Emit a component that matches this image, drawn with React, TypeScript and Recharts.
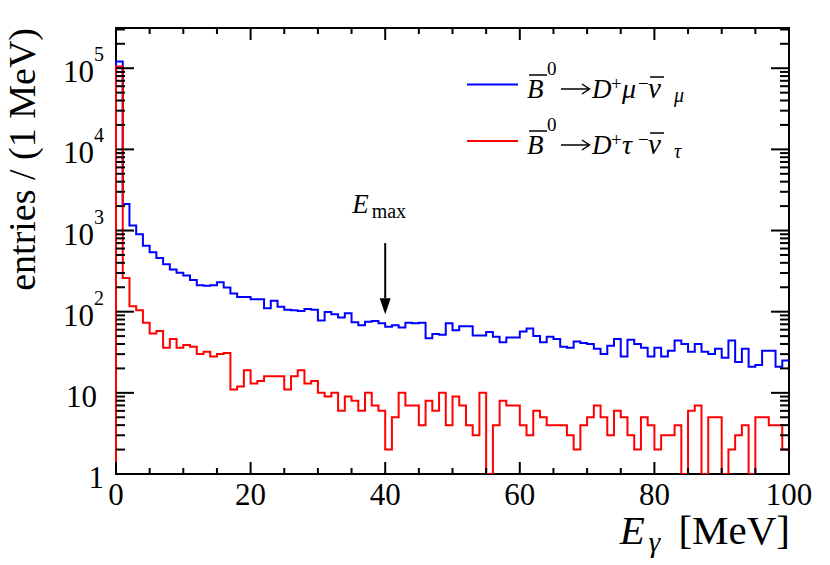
import { LineChart, Line, XAxis, YAxis, ReferenceArea, ReferenceLine, Legend, Label } from "recharts";

// photon energy histogram, 1 MeV bins (lower edges 0..99)
const binEdges = Array.from({ length: 100 }, (_, i) => i);

const muCounts = [
  121000, 2120, 1150, 900, 650, 540, 460, 385, 332, 301,
  280, 245, 211, 208, 211, 231, 199, 168, 152, 152,
  142, 142, 110, 136, 115, 106, 104, 102, 108, 106,
  78, 99, 93, 85, 96, 74, 68, 75, 77, 72,
  65, 68, 64, 73, 72, 73, 47, 53, 52, 72,
  59, 66, 66, 51, 51, 56, 49, 42, 48, 48,
  57, 62, 50, 42, 49, 46, 37, 36, 43, 41,
  40, 35, 30, 38, 46, 28, 45, 40, 36, 28,
  36, 28, 33, 44, 40, 32, 40, 32, 30, 35,
  27, 44, 24, 35, 21, 22, 33, 33, 21, 25,
];

const tauCounts = [
  105000, 260, 117, 104, 73, 54, 58, 36, 46, 36,
  39, 37, 30, 32, 28, 30, 31, 11, 12, 19,
  13, 14, 16, 16, 16, 11, 16, 19, 13, 14,
  10, 9, 10, 6, 9, 8, 6, 10, 7, 6,
  2, 5, 10, 7, 7, 4, 8, 6, 10, 4,
  9, 7, 4, 3, 10, 0, 4, 8, 7, 7,
  4, 3, 6, 5, 4, 4, 4, 3, 2, 4,
  5, 7, 5, 3, 6, 5, 3, 2, 5, 4,
  2, 3, 3, 4, 0, 6, 7, 0, 5, 5,
  0, 2, 3, 4, 0, 5, 5, 4, 4, 2,
];

const xTicks = [0, 5, 10, 15, 20, 25, 30, 35, 40, 45, 50, 55, 60, 65, 70, 75, 80, 85, 90, 95, 100];
const yDecades = [1, 10, 100, 1000, 10000, 100000];
const yMinorSteps = [2, 3, 4, 5, 6, 7, 8, 9];

const Y_MIN = 1;
const Y_MAX = 313000;
const E_MAX = 40;

const W = 830;
const H = 565;
const PLOT_LEFT = 116;
const PLOT_TOP = 28;
const PLOT_W = 673;
const PLOT_H = 446;
const FONT = '"Liberation Serif", "Times New Roman", serif';

const yTicks = yDecades
  .flatMap((d) => [d, ...yMinorSteps.map((m) => m * d)])
  .filter((v) => v <= Y_MAX);

// empty bins sit on the floor of the log axis
const rows = [
  { e: 0, mu: Y_MIN, tau: Y_MIN },
  ...binEdges.map((e, i) => ({
    e,
    mu: Math.max(muCounts[i], Y_MIN),
    tau: Math.max(tauCounts[i], Y_MIN),
  })),
  { e: 100, mu: Math.max(muCounts[99], Y_MIN), tau: Math.max(tauCounts[99], Y_MIN) },
];

function XTick(props: any) {
  const { x, y, payload } = props;
  const v = payload.value;
  const major = v % 20 === 0;
  const len = major ? 12 : 6;
  const top = y - PLOT_H;
  return (
    <g>
      <line x1={x} x2={x} y1={y} y2={y - len} stroke="#000" strokeWidth={2} />
      <line x1={x} x2={x} y1={top} y2={top + len} stroke="#000" strokeWidth={2} />
      {major && (
        <text x={x} y={y + 31} textAnchor="middle" fontFamily={FONT} fontSize={31} fill="#000">
          {v}
        </text>
      )}
    </g>
  );
}

function YTick(props: any) {
  const { x, y, payload } = props;
  const v = payload.value;
  const exp = Math.round(Math.log10(v));
  const major = Math.abs(Math.log10(v) - exp) < 1e-9;
  const len = major ? 18 : 9;
  const right = x + PLOT_W;
  let label = null;
  if (major) {
    if (exp === 0) {
      label = <text x={x - 12} y={y + 14} textAnchor="end" fontFamily={FONT} fontSize={31} fill="#000">1</text>;
    } else if (exp === 1) {
      label = <text x={x - 19} y={y + 14} textAnchor="end" fontFamily={FONT} fontSize={31} fill="#000">10</text>;
    } else {
      label = (
        <text x={x - 12} y={y + 14} textAnchor="end" fontFamily={FONT} fontSize={31} fill="#000">
          10<tspan dy={-21} fontSize={20}>{exp}</tspan>
        </text>
      );
    }
  }
  return (
    <g>
      <line x1={x} x2={x + len} y1={y} y2={y} stroke="#000" strokeWidth={2} />
      <line x1={right - len} x2={right} y1={y} y2={y} stroke="#000" strokeWidth={2} />
      {label}
    </g>
  );
}

function XTitle(props: any) {
  const vb = props.viewBox || { x: PLOT_LEFT, y: PLOT_TOP + PLOT_H, width: PLOT_W };
  return (
    <text x={vb.x + vb.width + 1} y={vb.y + 70} textAnchor="end" fontFamily={FONT} fontSize={41} fill="#000">
      <tspan fontStyle="italic">E</tspan>
      <tspan fontStyle="italic" fontSize={29} dx={4} dy={8}>γ</tspan>
      <tspan dx={8} dy={-8}> [MeV]</tspan>
    </text>
  );
}

function YTitle(props: any) {
  const vb = props.viewBox || { y: PLOT_TOP };
  return (
    <text
      x={35}
      y={vb.y}
      transform={`rotate(-90 35 ${vb.y})`}
      textAnchor="end"
      fontFamily={FONT}
      fontSize={38}
      fill="#000"
    >
      entries / (1 MeV)
    </text>
  );
}

function EmaxArrow(props: any) {
  const { x1, y1, x2, y2 } = props;
  const head = 16;
  const half = 5.5;
  return (
    <g>
      <line x1={x1} y1={y1} x2={x2} y2={y2 - head} stroke="#000" strokeWidth={2} />
      <polygon points={`${x2 - half},${y2 - head} ${x2 + half},${y2 - head} ${x2},${y2}`} fill="#000" />
      <text x={x1 - 33} y={y1 - 30} fontFamily={FONT} fontSize={27} fill="#000">
        <tspan fontStyle="italic">E</tspan>
        <tspan fontSize={20} dx={3} dy={5}>max</tspan>
      </text>
    </g>
  );
}

function decayLabel(lepton: string, base: number) {
  const t = { fontFamily: FONT, fill: "#000" };
  const ay = base - 9;
  return (
    <g>
      <text x={77} y={base} fontSize={27} fontStyle="italic" {...t}>B</text>
      <line x1={79} x2={97} y1={base - 23} y2={base - 23} stroke="#000" strokeWidth={1.5} />
      <text x={97} y={base - 23} fontSize={19} {...t}>0</text>
      <line x1={111} x2={139} y1={ay} y2={ay} stroke="#000" strokeWidth={1.5} />
      <polyline points={`${132},${ay - 5} ${139.5},${ay} ${132},${ay + 5}`} fill="none" stroke="#000" strokeWidth={1.5} />
      <text x={142} y={base} fontSize={27} fontStyle="italic" {...t}>D</text>
      <text x={161} y={base - 8} fontSize={19} {...t}>+</text>
      <text x={172} y={base} fontSize={28} fontStyle="italic" {...t}>{lepton}</text>
      <text x={188} y={base - 8} fontSize={19} {...t}>−</text>
      <text x={198} y={base} fontSize={29} fontStyle="italic" {...t}>ν</text>
      <line x1={200} x2={214} y1={base - 21} y2={base - 21} stroke="#000" strokeWidth={1.5} />
      <text x={224} y={base + 4} fontSize={20} fontStyle="italic" {...t}>{lepton}</text>
    </g>
  );
}

const leptonOf: Record<string, string> = { mu: "μ", tau: "τ" };

function LegendBox(props: any) {
  const payload = props.payload || [];
  return (
    <svg width={300} height={120} style={{ display: "block" }}>
      {payload.map((entry: any, i: number) => {
        const lineY = 29.5 + i * 56.5;
        const base = 43 + i * 56;
        return (
          <g key={String(entry.dataKey)}>
            <line x1={17} x2={68} y1={lineY} y2={lineY} stroke={entry.color} strokeWidth={2} />
            {decayLabel(leptonOf[String(entry.dataKey)], base)}
          </g>
        );
      })}
    </svg>
  );
}

export default function App() {
  return (
    <div style={{ position: "absolute", left: 0, top: 0, width: W, height: H, background: "#fff" }}>
      <LineChart
        width={W}
        height={H}
        data={rows}
        margin={{ top: PLOT_TOP, right: W - PLOT_LEFT - PLOT_W, bottom: 0, left: 0 }}
      >
        <ReferenceArea
          x1={0}
          x2={100}
          y1={Y_MIN}
          y2={Y_MAX}
          fill="none"
          stroke="#000"
          strokeWidth={2}
          ifOverflow="visible"
        />
        <XAxis
          dataKey="e"
          type="number"
          domain={[0, 100]}
          ticks={xTicks}
          interval={0}
          height={H - PLOT_TOP - PLOT_H}
          tickSize={0}
          tickMargin={0}
          tickLine={false}
          axisLine={false}
          tick={XTick}
        >
          <Label content={XTitle} />
        </XAxis>
        <YAxis
          type="number"
          scale="log"
          domain={[Y_MIN, Y_MAX]}
          allowDataOverflow
          ticks={yTicks}
          interval={0}
          width={PLOT_LEFT}
          tickSize={0}
          tickMargin={0}
          tickLine={false}
          axisLine={false}
          tick={YTick}
        >
          <Label content={YTitle} />
        </YAxis>
        <Legend
          layout="vertical"
          align="center"
          verticalAlign="middle"
          wrapperStyle={{ left: 450, top: 55, width: 300, height: 120 }}
          content={LegendBox}
        />
        <Line
          dataKey="mu"
          name="B0 -> D+ mu- nubar"
          type="stepAfter"
          stroke="#0000ff"
          strokeWidth={2}
          dot={false}
          isAnimationActive={false}
        />
        <Line
          dataKey="tau"
          name="B0 -> D+ tau- nubar"
          type="stepAfter"
          stroke="#ff0000"
          strokeWidth={2}
          dot={false}
          isAnimationActive={false}
        />
        <ReferenceLine
          segment={[
            { x: E_MAX, y: 700 },
            { x: E_MAX, y: 93 },
          ]}
          shape={EmaxArrow}
          ifOverflow="visible"
        />
      </LineChart>
    </div>
  );
}
